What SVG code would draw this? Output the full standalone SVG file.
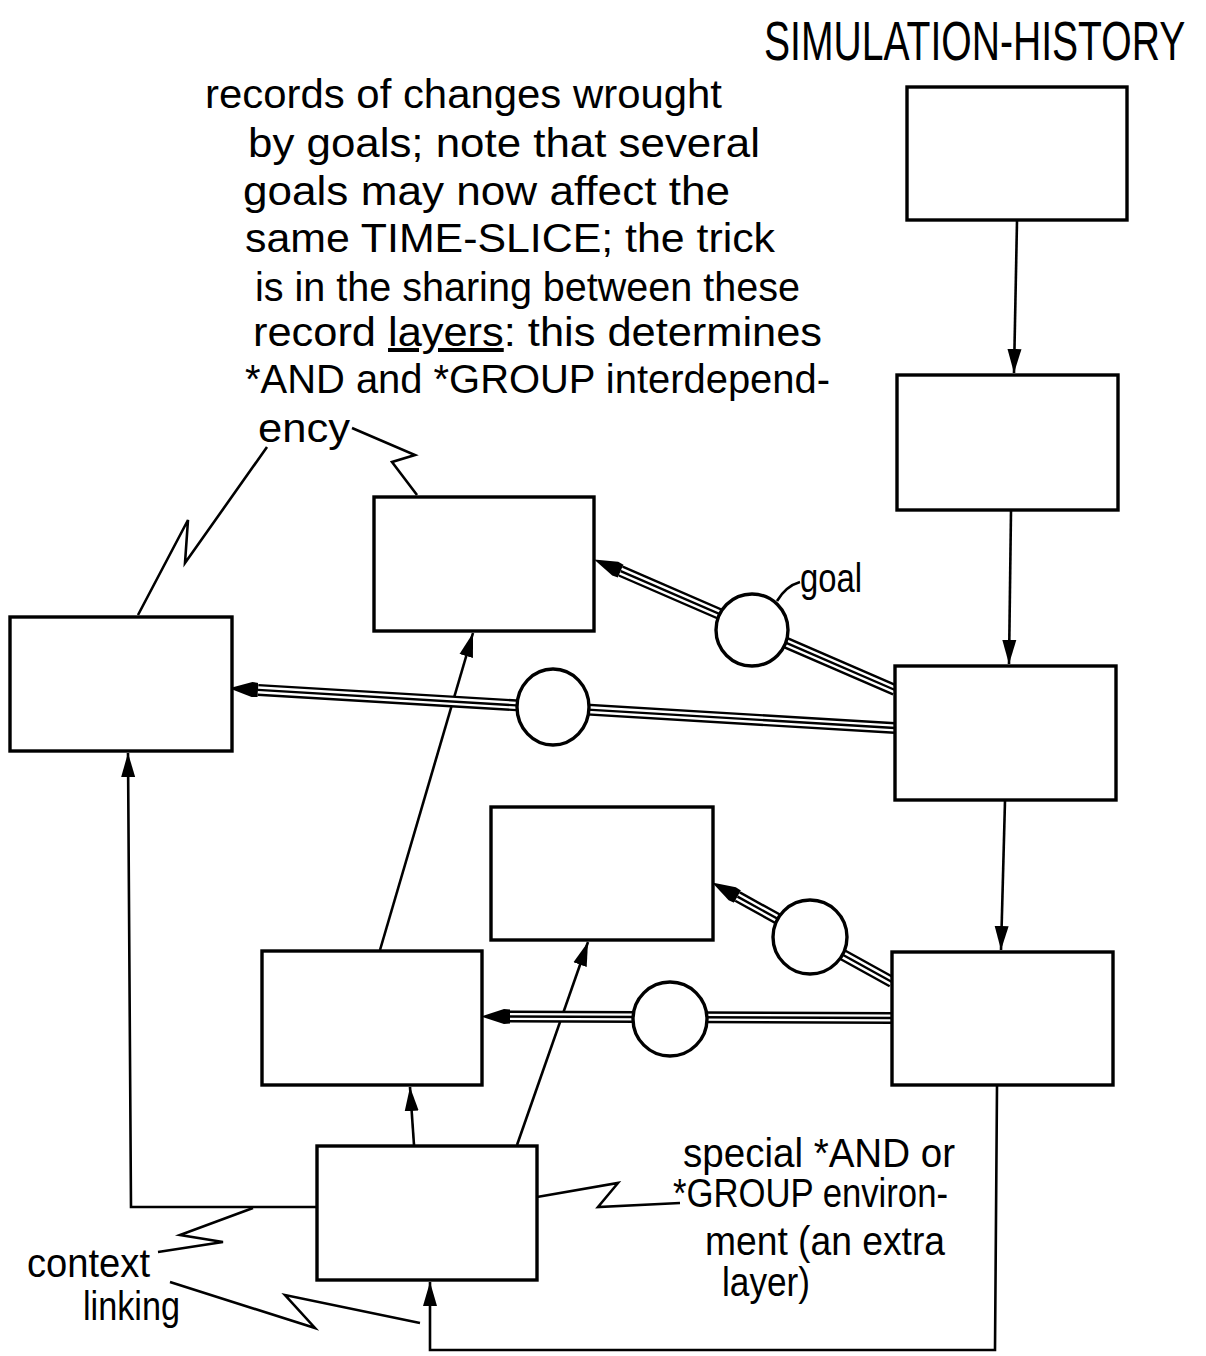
<svg xmlns="http://www.w3.org/2000/svg" width="1206" height="1356" viewBox="0 0 1206 1356">
<style>
.box{fill:#fff;stroke:#000;stroke-width:3.4}
.ln{fill:none;stroke:#000;stroke-width:2.6;stroke-linejoin:miter}
.arr{marker-end:url(#ah)}
.t1{fill:none;stroke:#000;stroke-width:12;marker-end:url(#gh)}
.t2{fill:none;stroke:#fff;stroke-width:7.2}
.t3{fill:none;stroke:#000;stroke-width:2.4}
.goal{fill:#fff;stroke:#000;stroke-width:3.4}
.txt{font-family:"Liberation Sans",Arial,sans-serif;font-size:40px;fill:#000}
.title{font-family:"Liberation Sans",Arial,sans-serif;font-size:56px;fill:#000}
</style>
<defs>
<marker id="ah" markerUnits="userSpaceOnUse" markerWidth="26" markerHeight="18" viewBox="0 -9 26 18" refX="24" refY="0" orient="auto">
<path d="M0,-7 L24,0 L0,7 z" fill="#000"/>
</marker>
<marker id="gh" markerUnits="userSpaceOnUse" markerWidth="32" markerHeight="20" viewBox="0 -10 32 20" refX="0" refY="0" orient="auto">
<path d="M0,-7 L6,-7.5 L29,0 L6,7.5 L0,7 z" fill="#000"/>
</marker>
</defs>
<rect width="1206" height="1356" fill="#fff"/>

<g id="connectors">
<path class="ln arr" d="M1017,221 L1014,373"/>
<path class="ln arr" d="M1011,511 L1009,664"/>
<path class="ln arr" d="M1005,801 L1001,950"/>
<path class="ln arr" d="M997,1086 L995,1350 L430,1350 L430,1282"/>
<path class="ln arr" d="M414,1145 L410,1087"/>
<path class="ln arr" d="M517,1145 L588,942"/>
<path class="ln arr" d="M380,950 L473,633"/>
<path class="ln arr" d="M317,1207 L131,1207 L128,753"/>
<g id="goal-links">
<path class="t1" d="M895,690 L620.7,571.1"/>
<path class="t2" d="M895,690 L620.7,571.1"/>
<path class="t3" d="M895,690 L620.7,571.1"/>
<path class="t1" d="M895,728 L258,689.9"/>
<path class="t2" d="M895,728 L258,689.9"/>
<path class="t3" d="M895,728 L258,689.9"/>
<path class="t1" d="M892,982 L737.5,896.6"/>
<path class="t2" d="M892,982 L737.5,896.6"/>
<path class="t3" d="M892,982 L737.5,896.6"/>
<path class="t1" d="M892,1018 L510,1016.5"/>
<path class="t2" d="M892,1018 L510,1016.5"/>
<path class="t3" d="M892,1018 L510,1016.5"/>
</g>
<g id="leaders">
<path class="ln" d="M352,428 L415,455 L392,462 L417,495"/>
<path class="ln" d="M267,447 L185,563 L188,520 L138,615"/>
<path class="ln" d="M158,1252 L223,1242 L180,1235 L253,1208"/>
<path class="ln" d="M170,1282 L315,1328 L285,1295 L420,1323"/>
<path class="ln" d="M537,1197 L618,1183 L598,1207 L680,1203"/>
<path class="ln" d="M777,601 Q786,586 800,582"/>
</g>
</g>

<g id="goal-circles">
<circle id="goal1" class="goal" cx="752" cy="630" r="36"/>
<ellipse id="goal2" class="goal" cx="553" cy="707" rx="36" ry="38"/>
<circle id="goal3" class="goal" cx="810" cy="937" r="37"/>
<circle id="goal4" class="goal" cx="670" cy="1019" r="37"/>
</g>

<g id="node-s1"><rect class="box" x="907" y="87" width="220" height="133"/></g>
<g id="node-s2"><rect class="box" x="897" y="375" width="221" height="135"/></g>
<g id="node-s3"><rect class="box" x="895" y="666" width="221" height="134"/></g>
<g id="node-s4"><rect class="box" x="892" y="952" width="221" height="133"/></g>
<g id="node-a"><rect class="box" x="374" y="497" width="220" height="134"/></g>
<g id="node-b"><rect class="box" x="10" y="617" width="222" height="134"/></g>
<g id="node-c"><rect class="box" x="491" y="807" width="222" height="133"/></g>
<g id="node-d"><rect class="box" x="262" y="951" width="220" height="134"/></g>
<g id="node-e"><rect class="box" x="317" y="1146" width="220" height="134"/></g>

<g id="labels">
<text class="title" transform="translate(764,60) scale(0.698,1)" x="0" y="0">SIMULATION-HISTORY</text>
<text class="txt" x="205" y="108" textLength="517" lengthAdjust="spacingAndGlyphs">records of changes wrought</text>
<text class="txt" x="248" y="157" textLength="512" lengthAdjust="spacingAndGlyphs">by goals; note that several</text>
<text class="txt" x="243" y="205" textLength="487" lengthAdjust="spacingAndGlyphs">goals may now affect the</text>
<text class="txt" x="245" y="252" textLength="530" lengthAdjust="spacingAndGlyphs">same TIME-SLICE; the trick</text>
<text class="txt" x="255" y="301" textLength="545" lengthAdjust="spacingAndGlyphs">is in the sharing between these</text>
<text class="txt" x="253" y="346" textLength="569" lengthAdjust="spacingAndGlyphs">record <tspan text-decoration="underline">layers</tspan>: this determines</text>
<text class="txt" x="245" y="393" textLength="585" lengthAdjust="spacingAndGlyphs">*AND and *GROUP interdepend-</text>
<text class="txt" x="258" y="442" textLength="92" lengthAdjust="spacingAndGlyphs">ency</text>
<text class="txt" x="800" y="592" textLength="62" lengthAdjust="spacingAndGlyphs">goal</text>
<text class="txt" x="683" y="1167" textLength="272" lengthAdjust="spacingAndGlyphs">special *AND or</text>
<text class="txt" x="673" y="1207" textLength="275" lengthAdjust="spacingAndGlyphs">*GROUP environ-</text>
<text class="txt" x="705" y="1255" textLength="240" lengthAdjust="spacingAndGlyphs">ment (an extra</text>
<text class="txt" x="722" y="1296" textLength="88" lengthAdjust="spacingAndGlyphs">layer)</text>
<text class="txt" x="27" y="1277" textLength="123" lengthAdjust="spacingAndGlyphs">context</text>
<text class="txt" x="83" y="1320" textLength="97" lengthAdjust="spacingAndGlyphs">linking</text>
</g>
</svg>
